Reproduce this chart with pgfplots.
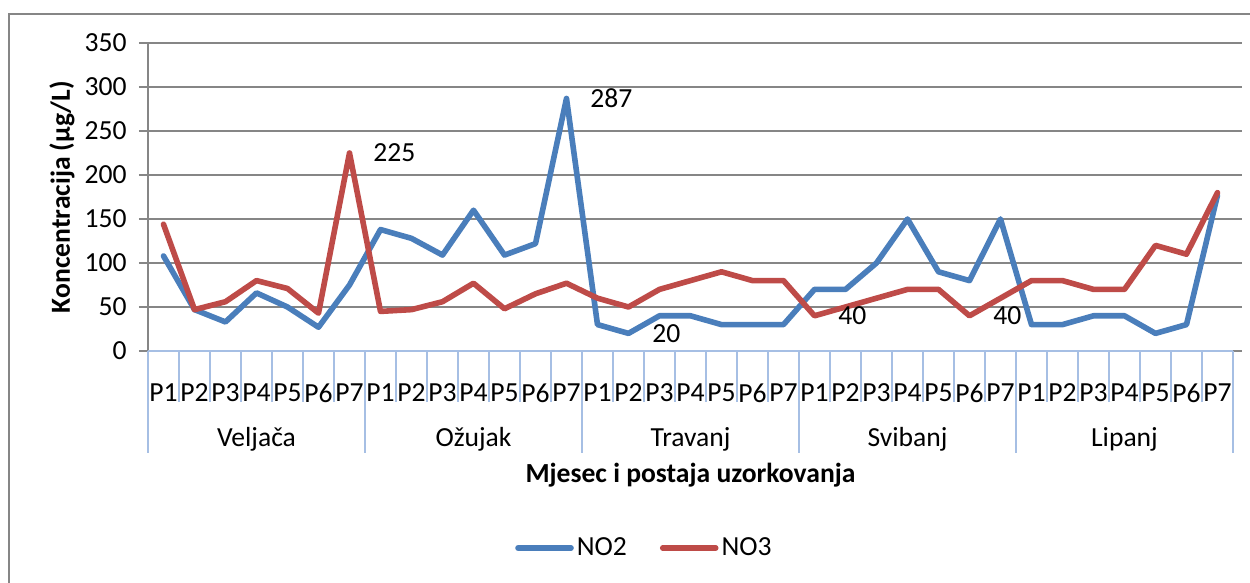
\documentclass[border=0pt]{standalone}
\usepackage{fontspec}
\setmainfont{Carlito}
\usepackage{pgfplots}
\pgfplotsset{compat=1.18}
\definecolor{sblue}{HTML}{4A7EBB}
\definecolor{sred}{HTML}{BE4B48}
\definecolor{gridgray}{RGB}{134,134,134}
\definecolor{axblue}{HTML}{A6BFE4}
\begin{document}
\begin{tikzpicture}[font=\fontsize{13.8}{16.5}\selectfont]
\useasboundingbox (0,0) rectangle (625pt,291.5pt);
% chart frame
\draw[gridgray, line width=0.8pt] (4.5pt,-2pt) -- (4.5pt,284.5pt) -- (627pt,284.5pt);
\begin{axis}[
  name=main,
  scale only axis,
  width=542.5pt, height=154pt,
  at={(74pt,116pt)}, anchor=south west,
  xmin=-0.5, xmax=34.5, ymin=0, ymax=350,
  clip=false,
  axis line style={draw=none},
  ytick={0,50,...,350},
  ymajorgrids,
  grid style={gridgray, line width=0.8pt},
  y tick style={gridgray, line width=0.8pt},
  major tick length=4.5pt,
  tick align=outside,
  xtick={0,...,34},
  x tick style={draw=none},
  xticklabels={P1,P2,P3,P4,P5,P6,P7,P1,P2,P3,P4,P5,P6,P7,P1,P2,P3,P4,P5,P6,P7,P1,P2,P3,P4,P5,P6,P7,P1,P2,P3,P4,P5,P6,P7},
  xticklabel style={anchor=center, inner sep=0pt, yshift=-16.5pt},
  yticklabel style={anchor=east, inner sep=0pt, xshift=-6pt},
  /pgf/number format/assume math mode=true,
  legend columns=2,
  legend style={at={(0.458,-0.6396)}, anchor=center, draw=none, fill=none,
    /tikz/every even column/.append style={column sep=15pt},
    nodes={inner sep=1.5pt}},
  legend image code/.code={\draw[#1, line cap=round] (0pt,0pt) -- (26.5pt,0pt);},
]
\addplot[sblue, line width=2.8pt, line join=round, line cap=round] coordinates {
(0,108) (1,47) (2,33) (3,66) (4,50) (5,27) (6,75)
(7,138) (8,128) (9,109) (10,160) (11,109) (12,122) (13,287)
(14,30) (15,20) (16,40) (17,40) (18,30) (19,30) (20,30)
(21,70) (22,70) (23,100) (24,150) (25,90) (26,80) (27,150)
(28,30) (29,30) (30,40) (31,40) (32,20) (33,30) (34,177)
};
\addlegendentry{NO2}
\addplot[sred, line width=2.8pt, line join=round, line cap=round] coordinates {
(0,144) (1,47) (2,56) (3,80) (4,71) (5,43) (6,225)
(7,45) (8,47) (9,56) (10,77) (11,48) (12,65) (13,77)
(14,60) (15,50) (16,70) (17,80) (18,90) (19,80) (20,80)
(21,40) (22,50) (23,60) (24,70) (25,70) (26,40) (27,60)
(28,80) (29,80) (30,70) (31,70) (32,120) (33,110) (34,180)
};
\addlegendentry{NO3}
\node[anchor=west, inner sep=0pt, xshift=11.75pt] at (axis cs:6,225) {225};
\node[anchor=west, inner sep=0pt, xshift=11.75pt] at (axis cs:13,287) {287};
\node[anchor=west, inner sep=0pt, xshift=11.75pt] at (axis cs:15,20) {20};
\node[anchor=west, inner sep=0pt, xshift=11.75pt] at (axis cs:21,40) {40};
\node[anchor=west, inner sep=0pt, xshift=11.75pt] at (axis cs:26,40) {40};
\end{axis}
% axis lines
\draw[gridgray, line width=0.8pt] (74pt,116pt) -- (74pt,270pt);
\draw[axblue, line width=0.8pt] (74pt,116pt) -- (616.5pt,116pt);
\foreach \i in {0,...,35} \draw[axblue, line width=0.8pt] (74pt+\i*15.5pt,116pt) -- ++(0,-25.5pt);
\foreach \i in {0,...,5} \draw[axblue, line width=0.8pt] (74pt+\i*108.5pt,116pt) -- ++(0,-51pt);
% month labels
\node at (128.25pt,72pt) {Veljača};
\node at (236.75pt,72pt) {Ožujak};
\node at (345.25pt,72pt) {Travanj};
\node at (453.75pt,72pt) {Svibanj};
\node at (562.25pt,72pt) {Lipanj};
% axis titles
\node[font=\fontsize{13.8}{16.5}\selectfont\bfseries] at (345.25pt,54pt) {Mjesec i postaja uzorkovanja};
\node[rotate=90, font=\fontsize{13.8}{16.5}\selectfont\bfseries] at (31pt,193pt) {Koncentracija (μg/L)};
\end{tikzpicture}
\end{document}
